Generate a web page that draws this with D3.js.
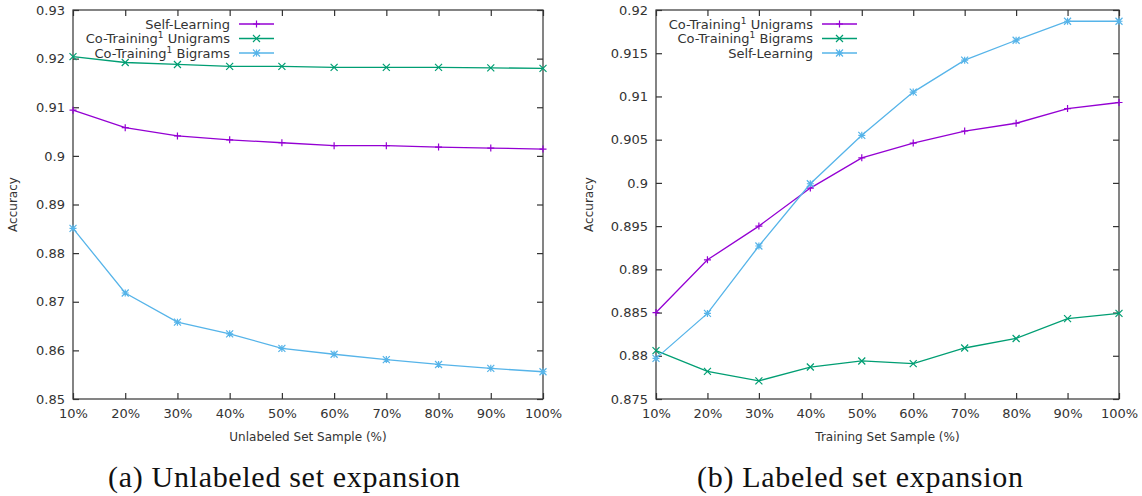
<!DOCTYPE html>
<html>
<head>
<meta charset="utf-8">
<script src="https://cdn.jsdelivr.net/npm/d3@7"></script>
<style>
  body { margin: 0; background: #fff; }
  svg { display: block; }
  text { font-family: "DejaVu Sans", sans-serif; fill: #333; }
  .caption { font-family: "Liberation Serif", serif; fill: #111; }
</style>
</head>
<body>
<script>
"use strict";

// x categories shared by both panels
var samples = ["10%", "20%", "30%", "40%", "50%", "60%", "70%", "80%", "90%", "100%"];

// panel (a): unlabeled set expansion
var aSelfLearning = [0.9094, 0.9058, 0.9041, 0.9033, 0.9027, 0.9021, 0.9021, 0.9018, 0.9016, 0.9014];
var aCoUnigrams   = [0.9204, 0.9192, 0.9188, 0.9184, 0.9184, 0.9182, 0.9182, 0.9182, 0.9181, 0.9180];
var aCoBigrams    = [0.8851, 0.8718, 0.8658, 0.8634, 0.8604, 0.8592, 0.8581, 0.8571, 0.8563, 0.8556];
var aTicks = [0.85, 0.86, 0.87, 0.88, 0.89, 0.9, 0.91, 0.92, 0.93];

// panel (b): labeled set expansion
var bCoUnigrams   = [0.8850, 0.8911, 0.8950, 0.8994, 0.9029, 0.9046, 0.9060, 0.9069, 0.9086, 0.9093];
var bCoBigrams    = [0.8806, 0.8782, 0.8771, 0.8787, 0.8794, 0.8791, 0.8809, 0.8820, 0.8843, 0.8849];
var bSelfLearning = [0.8797, 0.8849, 0.8927, 0.8999, 0.9055, 0.9105, 0.9142, 0.9165, 0.9187, 0.9187];
var bTicks = [0.875, 0.88, 0.885, 0.89, 0.895, 0.9, 0.905, 0.91, 0.915, 0.92];

var PURPLE = "#9400d3";
var GREEN = "#009e73";
var BLUE = "#56b4e9";

var svg = d3.select("body").append("svg")
  .attr("width", 1142)
  .attr("height", 496);

//marker shapes, gnuplot style: + , x and *
function drawMarker (g, type, color) {
  var s = 3.5;
  var path = "";
  if (type === "plus" || type === "star") {
    path += "M" + (-s) + ",0H" + s + "M0," + (-s) + "V" + s;
  }
  if (type === "cross" || type === "star") {
    path += "M" + (-s) + "," + (-s) + "L" + s + "," + s + "M" + (-s) + "," + s + "L" + s + "," + (-s);
  }
  g.append("path").attr("d", path).attr("stroke", color).attr("stroke-width", 1.2).attr("fill", "none");
}

function drawPanel (opt) {
  var x = d3.scalePoint().domain(samples).range([opt.left, opt.right]);
  var y = d3.scaleLinear().domain(opt.domain).range([opt.bottom, opt.top]);
  var g = svg.append("g");

  // frame
  g.append("rect")
    .attr("x", opt.left).attr("y", opt.top)
    .attr("width", opt.right - opt.left).attr("height", opt.bottom - opt.top)
    .attr("fill", "none").attr("stroke", "#333").attr("stroke-width", 1.2);

  // axes with inward ticks, then mirrored ticks on the opposite side
  var yAxis = g.append("g").attr("transform", "translate(" + opt.left + ",0)")
    .call(d3.axisLeft(y).tickValues(opt.ticks).tickSize(-6).tickPadding(8).tickFormat(function(d) { return String(+d.toFixed(3)); }));
  var xAxis = g.append("g").attr("transform", "translate(0," + opt.bottom + ")")
    .call(d3.axisBottom(x).tickSize(-6).tickPadding(10));
  g.append("g").attr("transform", "translate(" + opt.right + ",0)")
    .call(d3.axisRight(y).tickValues(opt.ticks).tickSize(-6).tickFormat(""));
  g.append("g").attr("transform", "translate(0," + opt.top + ")")
    .call(d3.axisTop(x).tickSize(-6).tickFormat(""));
  g.selectAll(".domain").remove();
  g.selectAll(".tick line").attr("stroke", "#333").attr("stroke-width", 1.2);
  yAxis.selectAll("text").attr("font-size", 13).attr("font-family", "DejaVu Sans").attr("fill", "#333");
  xAxis.selectAll("text").attr("font-size", 13).attr("font-family", "DejaVu Sans").attr("fill", "#333");

  // axis titles
  g.append("text")
    .attr("transform", "translate(" + opt.ylabelX + "," + ((opt.top + opt.bottom) / 2) + ") rotate(-90)")
    .attr("text-anchor", "middle").attr("font-size", 12).text("Accuracy");
  g.append("text")
    .attr("x", (opt.left + opt.right) / 2).attr("y", 441)
    .attr("text-anchor", "middle").attr("font-size", 12).text(opt.xlabel);

  // series
  var line = d3.line().x(function(d, i) { return x(samples[i]); }).y(function(d) { return y(d); });
  opt.series.forEach(function(s, k) {
    g.append("path").datum(s.values)
      .attr("d", line).attr("fill", "none").attr("stroke", s.color).attr("stroke-width", 1.3);
    s.values.forEach(function(v, i) {
      var m = g.append("g").attr("transform", "translate(" + x(samples[i]) + "," + y(v) + ")");
      drawMarker(m, s.marker, s.color);
    });

    // legend row
    var ly = 24 + k * 14.5;
    var t = g.append("text").attr("x", opt.legendX).attr("y", ly + 4.5)
      .attr("text-anchor", "end").attr("font-size", 13);
    if (s.sup) {
      t.append("tspan").text(s.name[0]);
      t.append("tspan").attr("dy", -5).attr("font-size", 9).text("1");
      t.append("tspan").attr("dy", 5).text(s.name[1]);
    } else {
      t.text(s.name);
    }
    g.append("line").attr("x1", opt.legendX + 9).attr("x2", opt.legendX + 44)
      .attr("y1", ly).attr("y2", ly).attr("stroke", s.color).attr("stroke-width", 1.3);
    drawMarker(g.append("g").attr("transform", "translate(" + (opt.legendX + 26.5) + "," + ly + ")"), s.marker, s.color);
  });

  // caption
  svg.append("text").attr("class", "caption")
    .attr("x", opt.captionX).attr("y", 487)
    .attr("text-anchor", "middle").attr("font-size", 30)
    .attr("textLength", opt.captionWidth).attr("lengthAdjust", "spacing")
    .text(opt.caption);
}

drawPanel({
  left: 73, right: 543, top: 10, bottom: 399,
  domain: [0.85, 0.93], ticks: aTicks,
  ylabelX: 17, xlabel: "Unlabeled Set Sample (%)",
  legendX: 230, captionX: 284, captionWidth: 352, caption: "(a) Unlabeled set expansion",
  series: [
    { name: "Self-Learning", values: aSelfLearning, color: PURPLE, marker: "plus" },
    { name: ["Co-Training", " Unigrams"], sup: true, values: aCoUnigrams, color: GREEN, marker: "cross" },
    { name: ["Co-Training", " Bigrams"], sup: true, values: aCoBigrams, color: BLUE, marker: "star" }
  ]
});

drawPanel({
  left: 656, right: 1119, top: 10, bottom: 399,
  domain: [0.875, 0.92], ticks: bTicks,
  ylabelX: 593, xlabel: "Training Set Sample (%)",
  legendX: 813, captionX: 860, captionWidth: 326, caption: "(b) Labeled set expansion",
  series: [
    { name: ["Co-Training", " Unigrams"], sup: true, values: bCoUnigrams, color: PURPLE, marker: "plus" },
    { name: ["Co-Training", " Bigrams"], sup: true, values: bCoBigrams, color: GREEN, marker: "cross" },
    { name: "Self-Learning", values: bSelfLearning, color: BLUE, marker: "star" }
  ]
});
</script>
</body>
</html>
